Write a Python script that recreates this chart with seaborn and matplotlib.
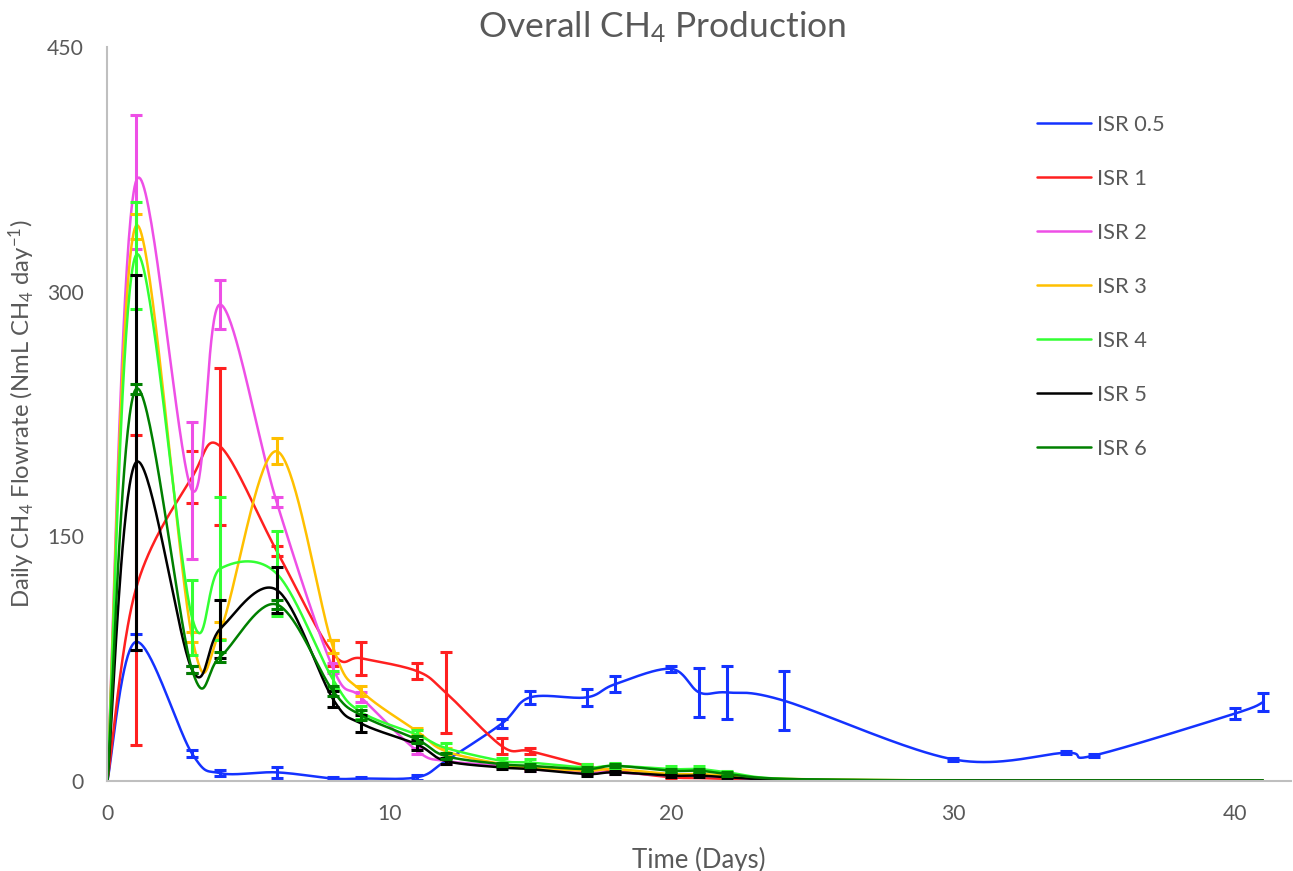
import numpy as np
import matplotlib
matplotlib.use("Agg")
import matplotlib.pyplot as plt
import seaborn as sns

# sampling days (same for all series)
days = [0, 1, 3, 4, 6, 8, 9, 11, 12, 14, 15, 17, 18, 20, 21, 22, 24, 30, 34, 35, 40, 41]

isr05 = [0, 85, 16.5, 4.5, 5, 1.2, 1.2, 2, 12, 35, 51, 51, 59, 68.5, 54, 54, 49, 13, 17, 15.3, 41, 48]
isr05_err = [0, 5, 2, 2, 3.5, 1, 1, 1.5, 0, 3, 4, 5, 5, 2, 15, 16, 18, 1, 1, 1, 3.5, 5.6]

isr1 = [0, 117, 186, 205, 141, 78, 75, 67, 54, 21, 18, 9, 6, 2, 1.5, 1, 0, 0, 0, 0, 0, 0]
isr1_err = [0, 95, 16, 48, 3, 8, 10, 5, 25, 5, 2, 1, 1, 1, 0, 0, 0, 0, 0, 0, 0, 0]

isr2 = [0, 367, 178, 292, 171, 69, 51, 18, 12, 9, 7, 5, 5, 3, 3, 2, 0.5, 0, 0, 0, 0, 0]
isr2_err = [0, 41, 42, 15, 3, 3, 3, 2, 2, 1, 1, 1, 1, 1, 1, 1, 0, 0, 0, 0, 0, 0]

isr3 = [0, 340, 88, 92, 202, 82, 55, 30, 18, 10, 8, 6, 7, 4, 4, 3, 1, 0, 0, 0, 0, 0]
isr3_err = [0, 7.5, 3, 5, 8, 4, 3, 2, 2, 1, 1, 1, 1, 1, 1, 1, 0, 0, 0, 0, 0, 0]

isr4 = [0, 322, 100, 130, 127, 62, 42, 28, 20, 12, 11, 8, 9, 7, 7, 5, 1, 0, 0, 0, 0, 0]
isr4_err = [0, 33, 23, 44, 26, 5, 4, 3, 3, 2, 2, 2, 2, 2, 2, 1, 0, 0, 0, 0, 0, 0]

isr5 = [0, 195, 68, 93, 117, 50, 35, 22, 12, 8, 7, 4, 5, 3, 3, 2, 0.5, 0, 0, 0, 0, 0]
isr5_err = [0, 115, 2, 18, 14, 5, 5, 3, 2, 1, 1, 1, 1, 1, 1, 1, 0, 0, 0, 0, 0, 0]

isr6 = [0, 240, 68, 76, 108, 55, 40, 25, 15, 10, 9, 7, 9, 6, 6, 4, 1, 0, 0, 0, 0, 0]
isr6_err = [0, 3, 2, 3, 3, 3, 3, 2, 2, 1, 1, 1, 1, 1, 1, 1, 0, 0, 0, 0, 0, 0]

labels = ["ISR 0.5", "ISR 1", "ISR 2", "ISR 3", "ISR 4", "ISR 5", "ISR 6"]
colors = ["#1432FF", "#FF2020", "#EE4FE6", "#FFC000", "#33FF33", "#000000", "#008000"]
series = [isr05, isr1, isr2, isr3, isr4, isr5, isr6]
errors = [isr05_err, isr1_err, isr2_err, isr3_err, isr4_err, isr5_err, isr6_err]


def smooth(x, y, n=40):
    # excel-like smoothed line (catmull-rom as bezier)
    pts = np.column_stack([x, y]).astype(float)
    P = np.vstack([pts[0], pts, pts[-1]])
    t = np.linspace(0, 1, n, endpoint=False)[:, None]
    out = []
    for i in range(1, len(P) - 2):
        p0, p1, p2, p3 = P[i - 1], P[i], P[i + 1], P[i + 2]
        c1 = p1 + (p2 - p0) / 6
        c2 = p2 - (p3 - p1) / 6
        out.append((1 - t) ** 3 * p1 + 3 * (1 - t) ** 2 * t * c1 + 3 * (1 - t) * t ** 2 * c2 + t ** 3 * p2)
    out.append(pts[-1:])
    return np.vstack(out)


sns.set_style("white")
plt.rcParams['font.family'] = ['Lato', 'DejaVu Sans']
plt.rcParams['mathtext.fontset'] = 'custom'
plt.rcParams['mathtext.rm'] = 'Lato'
plt.rcParams['mathtext.it'] = 'Lato'
plt.rcParams['mathtext.default'] = 'regular'

W, H = 1293, 871
grey = "#595959"
fig = plt.figure(figsize=(W / 100, H / 100), dpi=100)
ax = fig.add_axes([107.5 / W, 1 - 780.5 / H, 1183.5 / W, 733.5 / H])

for vals, errs, lab, col in zip(series, errors, labels, colors):
    curve = smooth(days, vals)
    sns.lineplot(x=curve[:, 0], y=curve[:, 1], sort=False, estimator=None,
                 color=col, lw=1.8, label=lab, ax=ax)
    d = np.array(days, dtype=float)
    v = np.array(vals, dtype=float)
    e = np.array(errs, dtype=float)
    m = e > 0
    ax.errorbar(d[m], v[m], yerr=e[m], fmt='none', ecolor=col,
                elinewidth=2.2, capsize=4.5, capthick=2.2)

ax.set_xlim(0, 42)
ax.set_ylim(0, 450)
ax.set_xticks([0, 10, 20, 30, 40])
ax.set_yticks([0, 150, 300, 450])
ax.tick_params(length=0, labelsize=15, labelcolor=grey)
ax.tick_params(axis='y', pad=17)
ax.tick_params(axis='x', pad=17)
for s in ['top', 'right']:
    ax.spines[s].set_visible(False)
for s in ['left', 'bottom']:
    ax.spines[s].set_color('#BFBFBF')
    ax.spines[s].set_linewidth(1.5)

xl = ax.set_xlabel("Time (Days)", fontsize=15, color=grey)
yl = ax.set_ylabel("Daily CH$_4$ Flowrate (NmL CH$_4$ day$^{-1}$)", fontsize=15, color=grey)
ax.xaxis.set_label_coords(0.5, -0.091)
ax.yaxis.set_label_coords(-0.0595, 0.5)

title = fig.text(662 / W, 1 - 38 / H, "Overall CH$_4$ Production", fontsize=22,
                 color=grey, ha='center', va='baseline')

# size the text to the widths measured on the reference
fig.canvas.draw()
r = fig.canvas.get_renderer()


def fit(txt, target, horizontal=True):
    bb = txt.get_window_extent(r)
    size = bb.width if horizontal else bb.height
    txt.set_fontsize(txt.get_fontsize() * target / size)


fit(title, 368)
fit(xl, 134)
fit(yl, 390, horizontal=False)
lab450 = [t for t in ax.get_yticklabels() if t.get_text() == '450'][0]
tick_fs = 15 * 37 / lab450.get_window_extent(r).width
ax.tick_params(labelsize=tick_fs)


def make_legend(fs, ls, anchor):
    px = fs * 100 / 72
    lg = ax.legend(loc='upper left', bbox_to_anchor=anchor,
                   bbox_transform=fig.transFigure, frameon=False, fontsize=fs,
                   handlelength=54 / px, handletextpad=6 / px, labelspacing=ls,
                   borderpad=0, borderaxespad=0)
    for t in lg.get_texts():
        t.set_color(grey)
    return lg


anchor = (1037 / W, 1 - 112 / H)
leg = make_legend(15, 1.6, anchor)
fig.canvas.draw()
leg_fs = 15 * 67.7 / leg.get_texts()[0].get_window_extent(r).width
leg = make_legend(leg_fs, 1.6, anchor)
fig.canvas.draw()
hs = leg.legend_handles
c0 = hs[0].get_window_extent(r)
c6 = hs[-1].get_window_extent(r)
pitch = ((c0.y0 + c0.y1) - (c6.y0 + c6.y1)) / 2 / 6
ls = 1.6 + (54 - pitch) / (leg_fs * 100 / 72)
leg = make_legend(leg_fs, ls, anchor)
fig.canvas.draw()
c0 = leg.legend_handles[0].get_window_extent(r)
dy = (H - 123) - (c0.y0 + c0.y1) / 2
dx = 1037 - c0.x0
anchor = (anchor[0] + dx / W, anchor[1] + dy / H)
leg = make_legend(leg_fs, ls, anchor)

fig.savefig("out.png", dpi=100)
